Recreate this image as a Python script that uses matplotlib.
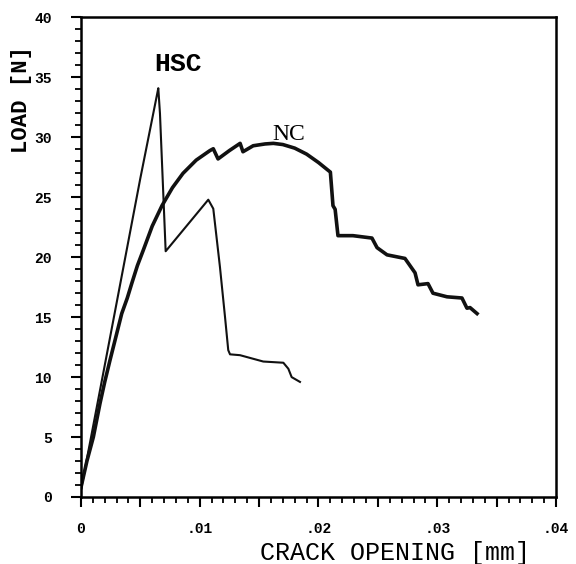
import matplotlib
matplotlib.use("Agg")
import matplotlib.pyplot as plt
from matplotlib.ticker import MultipleLocator, FuncFormatter

# crack opening [mm] / load [N]
nc_x = [0.0, 0.0005, 0.00104, 0.0016, 0.002, 0.00244, 0.003, 0.00343,
        0.0039, 0.00427, 0.00475, 0.00525, 0.006, 0.00682, 0.0077, 0.00859,
        0.0097, 0.01086, 0.01114, 0.01154, 0.0125, 0.0134, 0.01364, 0.0145,
        0.0155, 0.0162, 0.017, 0.018, 0.019, 0.0200, 0.0205, 0.0210,
        0.02122, 0.0214, 0.02164, 0.0229, 0.0245,
        0.02493, 0.02577, 0.02728, 0.02813, 0.02838, 0.02922, 0.02964,
        0.03082, 0.03208, 0.0325, 0.03276, 0.03335]
nc_y = [0.8, 3.0, 5.0, 7.8, 9.6, 11.4, 13.6, 15.3,
        16.6, 17.8, 19.3, 20.6, 22.6, 24.3, 25.8, 27.0,
        28.1, 28.9, 29.05, 28.2, 28.9, 29.5, 28.8, 29.3,
        29.45, 29.5, 29.4, 29.1, 28.6, 27.9, 27.5, 27.1,
        24.3, 24.0, 21.8, 21.8, 21.6,
        20.8, 20.2, 19.9, 18.7, 17.7, 17.8, 17.0,
        16.7, 16.6, 15.75, 15.8, 15.3]

hsc_x = [0.0, 0.0016, 0.0050, 0.00641, 0.00651, 0.00665, 0.00693, 0.00713,
         0.01072, 0.01114, 0.0117, 0.01213, 0.0124, 0.01255, 0.01339,
         0.01535, 0.01704, 0.01746, 0.01774, 0.01844]
hsc_y = [0.6, 8.9, 26.6, 33.6, 34.1, 32.0, 25.3, 20.5,
         24.8, 24.05, 19.2, 15.0, 12.25, 11.9, 11.83,
         11.3, 11.2, 10.7, 10.0, 9.6]

xticks = [0, 0.01, 0.02, 0.03, 0.04]
xtick_labels = ["0", ".01", ".02", ".03", ".04"]

mono = "Liberation Mono"

fig = plt.figure(figsize=(5.76, 5.64), dpi=100)
ax = fig.add_axes([0.1406, 0.1188, 0.8247, 0.8502])

ax.plot(nc_x, nc_y, color="#111111", lw=2.6, solid_joinstyle="round")
ax.plot(hsc_x, hsc_y, color="#111111", lw=1.5)

ax.text(0.0082, 36.1, "HSC", family=mono, weight="bold", fontsize=19,
        ha="center", va="center")
ax.text(0.0175, 30.2, "NC", family="Liberation Serif", fontsize=17,
        ha="center", va="center")

ax.set_xlim(0, 0.04)
ax.set_ylim(0, 40)

ax.xaxis.set_major_locator(MultipleLocator(0.005))
ax.xaxis.set_minor_locator(MultipleLocator(0.001))
labels = dict(zip([round(t, 3) for t in xticks], xtick_labels))
ax.xaxis.set_major_formatter(FuncFormatter(lambda v, p: labels.get(round(v, 3), "")))
ax.yaxis.set_major_locator(MultipleLocator(5))
ax.yaxis.set_minor_locator(MultipleLocator(1))

ax.tick_params(which="major", length=7, width=1.5, direction="out", pad=11)
ax.tick_params(which="minor", length=4.5, width=1.3, direction="out")
ax.tick_params(axis="y", which="major", pad=14)
for lab in ax.get_xticklabels() + ax.get_yticklabels():
    lab.set_family(mono)
    lab.set_weight("bold")
    lab.set_fontsize(10.5)

for s in ax.spines.values():
    s.set_linewidth(1.8)

ax.set_xlabel("CRACK OPENING [mm]", family=mono, fontsize=18)
ax.set_ylabel("LOAD [N]", family=mono, weight="bold", fontsize=16)
ax.xaxis.set_label_coords(0.661, -0.092)
ax.yaxis.set_label_coords(-0.104, 0.828)

fig.savefig("out.png", dpi=100)
